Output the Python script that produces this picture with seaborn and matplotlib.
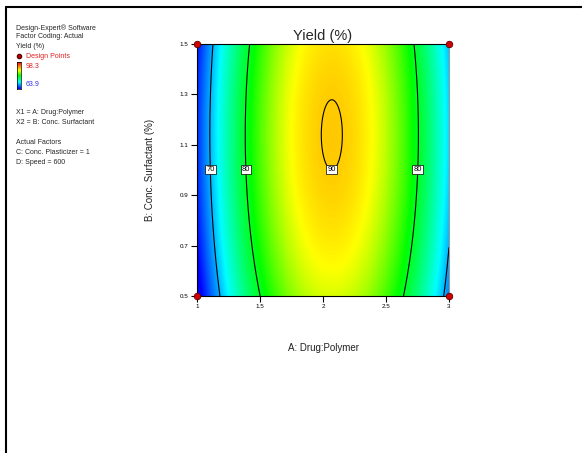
import numpy as np
import matplotlib
matplotlib.use("Agg")
import matplotlib.pyplot as plt
from matplotlib.colors import LinearSegmentedColormap
from matplotlib.lines import Line2D
import seaborn as sns
import pandas as pd

sns.set_style("white")
plt.rcParams['font.family'] = ['Liberation Sans', 'DejaVu Sans']

# ---- data ----
title = "Yield (%)"
x_label = "A: Drug:Polymer"
y_label = "B: Conc. Surfactant (%)"
x_ticks = [1, 1.5, 2, 2.5, 3]
y_ticks = [0.5, 0.7, 0.9, 1.1, 1.3, 1.5]
x_range = [1.0, 3.0]
y_range = [0.5, 1.5]
# quadratic response-surface model (estimated from contour positions)
peak_yield = 90.15
peak_A = 2.07
peak_B = 1.14
curv_A = 21.5
curv_B = 7.8
contour_levels = [70, 80, 90]
color_min = 63.9
color_max = 98.3
design_A = [1, 3, 1, 3]
design_B = [0.5, 0.5, 1.5, 1.5]
info_lines = ["Design-Expert\u00ae Software", "Factor Coding: Actual", "Yield (%)"]
factor_lines = ["X1 = A: Drug:Polymer", "X2 = B: Conc. Surfactant"]
actual_lines = ["Actual Factors", "C: Conc. Plasticizer = 1", "D: Speed = 600"]

# ---- figure ----
fig = plt.figure(figsize=(5.82, 4.53), dpi=100)
ax = fig.add_axes([197/582, 1-296/453, 252/582, 252/453])

gx = np.linspace(x_range[0], x_range[1], 400)
gy = np.linspace(y_range[0], y_range[1], 400)
X, Y = np.meshgrid(gx, gy)
Z = peak_yield - curv_A*(X-peak_A)**2 - curv_B*(Y-peak_B)**2

cmap = LinearSegmentedColormap.from_list(
    "de", [(0.0, (0, 0, 1)), (0.25, (0, 1, 1)), (0.5, (0, 1, 0)),
           (0.70, (1, 1, 0)), (0.82, (1, 0.6, 0)), (1.0, (1, 0, 0))])
ax.imshow(Z, extent=[x_range[0], x_range[1], y_range[0], y_range[1]],
          origin="lower", aspect="auto", cmap=cmap, vmin=color_min, vmax=color_max,
          interpolation="bilinear")
cs = ax.contour(X, Y, Z, levels=contour_levels, colors="black", linewidths=0.8)

# label positions: point of each labelled contour nearest B = 1.0
manual = []
for lev, segs in zip(cs.levels, cs.allsegs):
    for seg in segs:
        if len(seg) == 0:
            continue
        i = np.argmin(np.abs(seg[:, 1] - 1.0))
        if abs(seg[i, 1] - 1.0) < 0.05:
            if lev == 70 and seg[i, 0] > 2:
                continue
            manual.append((seg[i, 0], seg[i, 1]))
labels = ax.clabel(cs, fmt="%d", fontsize=5.5, manual=manual, inline=False)
for t in labels:
    t.set_rotation(0)
    t.set_bbox(dict(boxstyle="square,pad=0.15", fc="white", ec="black", lw=0.5))

pts = pd.DataFrame({"A": design_A, "B": design_B})
sns.scatterplot(data=pts, x="A", y="B", ax=ax, color="#d00000", edgecolor="#600000",
                s=22, linewidth=0.6, zorder=5, clip_on=False, legend=False)

ax.set_xlim(x_range)
ax.set_ylim(y_range)
ax.set_xticks(x_ticks)
ax.set_xticklabels([f"{v:g}" for v in x_ticks])
ax.set_yticks(y_ticks)
ax.set_yticklabels([f"{v:g}" for v in y_ticks])
ax.tick_params(axis="both", direction="out", length=4, width=0.8, labelsize=4.5,
               colors="black", pad=2, bottom=True, left=True)
ax.set_xlabel(x_label, fontsize=7, labelpad=24, color="#222222")
ax.set_ylabel(y_label, fontsize=7, labelpad=18, color="#222222")
ax.set_title(title, fontsize=10.5, pad=3)
for s in ["left", "bottom", "top"]:
    ax.spines[s].set_color("black")
    ax.spines[s].set_linewidth(0.8)
ax.spines["right"].set_color("#999999")
ax.spines["right"].set_linewidth(0.8)

# ---- left side legend/info ----
def fy(py):
    return 1 - py/453
def fx(px):
    return px/582

fs = 5
ys = [28, 37, 47]
for line, py in zip(info_lines, ys):
    fig.text(fx(16), fy(py), line, fontsize=fs, va="center", ha="left")
fig.add_artist(Line2D([fx(18.5)], [fy(56)], marker="o", color="#600000",
                      markerfacecolor="#c00000", markersize=3, transform=fig.transFigure))
fig.text(fx(26), fy(56), "Design Points", fontsize=fs, va="center", ha="left", color="#e02020")
cax = fig.add_axes([fx(17), fy(89), fx(4), (89-62)/453])
grad = np.linspace(0, 1, 100).reshape(-1, 1)
cax.imshow(grad, origin="lower", aspect="auto", cmap=cmap)
cax.set_xticks([]); cax.set_yticks([])
for s in cax.spines.values():
    s.set_linewidth(0.5); s.set_color("black")
fig.text(fx(26), fy(66), f"{color_max:g}", fontsize=fs, va="center", ha="left", color="#e02020")
fig.text(fx(26), fy(85), f"{color_min:g}", fontsize=fs, va="center", ha="left", color="#3030e0")
for line, py in zip(factor_lines, [113, 123]):
    fig.text(fx(16), fy(py), line, fontsize=fs, va="center", ha="left")
for line, py in zip(actual_lines, [143, 153, 162]):
    fig.text(fx(16), fy(py), line, fontsize=fs, va="center", ha="left")

# figure border lines (left and top)
fig.add_artist(Line2D([fx(6), fx(6)], [0, fy(7)], color="black", lw=1.5, transform=fig.transFigure))
fig.add_artist(Line2D([fx(6), 1], [fy(7), fy(7)], color="black", lw=1.5, transform=fig.transFigure))

fig.savefig("out.png", dpi=100)
